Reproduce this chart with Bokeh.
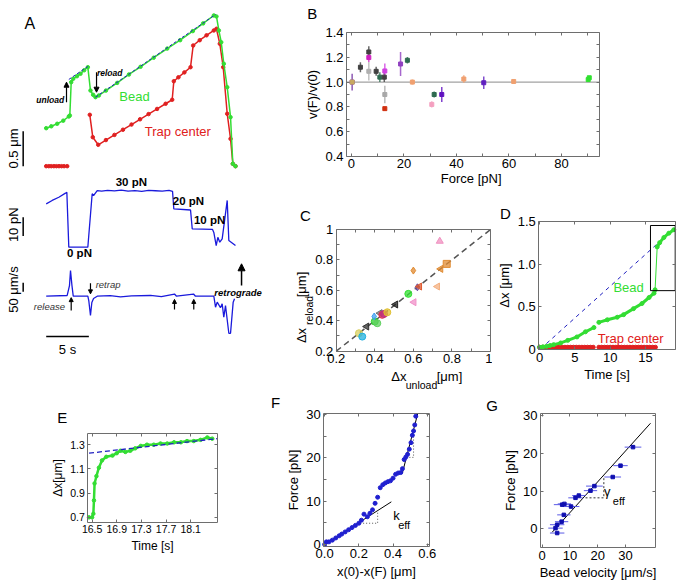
import math
from bokeh.plotting import figure
from bokeh.layouts import row, column
from bokeh.models import (Range1d, Label, Arrow, NormalHead, FixedTicker, LinearAxis,
                          PrintfTickFormatter)
from bokeh.embed import file_html
from bokeh.resources import INLINE

# ---------------- data ----------------
# Panel A: bead trace (time s, position um)
a_bead_t = [0.0, 0.6, 1.29, 2.0, 2.65, 2.77, 2.93, 3.17, 3.6, 4.02, 4.45, 4.88, 5.19, 5.5, 5.78, 6.17, 7.0,
            8.32, 9.7, 11.06, 12.6, 14.19, 15.7, 17.19, 18.4, 19.65, 19.96, 20.24, 20.52, 20.82, 21.22, 21.61,
            21.88, 22.19]
a_bead_x = [0.543, 0.57, 0.606, 0.65, 0.71, 0.724, 1.2, 1.249, 1.285, 1.32, 1.37, 1.414, 1.081, 1.02, 0.986,
            1.01, 1.08, 1.19, 1.31, 1.42, 1.55, 1.68, 1.80, 1.93, 2.04, 2.153, 2.139, 1.939, 1.771, 1.463, 1.129,
            0.7, 0.034, 0.0]
a_trap1_t = [0.0, 0.3, 0.6, 0.9, 1.2, 1.5, 1.8, 2.1, 2.46]
a_trap1_x = [0.0, 0.0, 0.0, 0.0, 0.0, 0.0, 0.0, 0.0, 0.0]
a_trap2_t = [5.11, 5.46, 6.1, 7.0, 8.0, 9.0, 10.0, 11.0, 12.0, 13.0, 14.0, 14.77, 14.96, 15.5, 16.2, 16.92,
             17.23, 18.0, 18.8, 19.65, 19.96, 20.35, 20.75, 21.22, 21.61, 21.88, 22.19]
a_trap2_x = [0.734, 0.414, 0.306, 0.373, 0.447, 0.521, 0.595, 0.67, 0.744, 0.818, 0.892, 0.949, 1.214, 1.27,
             1.34, 1.414, 1.724, 1.80, 1.87, 1.939, 1.963, 1.749, 1.414, 0.749, 0.391, 0.034, 0.0]
a_fit1_t = [2.65, 4.88]
a_fit1_x = [1.239, 1.424]
a_fit2_t = [5.78, 19.85]
a_fit2_x = [0.986, 2.167]
# force trace (pN)
a_force_t = [0.0, 0.7, 1.48, 2.26, 2.42, 2.65, 4.88, 5.39, 5.55, 5.98, 6.5, 7.2, 8.0, 8.8, 9.6, 10.4, 11.2, 12.0,
             12.8, 13.6, 14.4, 14.81, 14.96, 16.92, 17.12, 19.5, 19.65, 19.93, 20.12, 20.35, 20.63, 21.22, 21.41,
             22.19]
a_force = [23.2, 25.0, 26.7, 28.9, 29.4, 0.0, 0.0, 28.6, 27.6, 30.3, 30.0, 30.4, 30.1, 30.5, 30.0, 30.3, 29.9,
           30.4, 30.2, 30.0, 30.4, 29.9, 20.5, 19.9, 9.8, 9.5, 7.9, 0.9, 5.3, 2.7, 4.5, 25.0, 3.6, 0.9]
# velocity trace (um/s)
a_vel_t = [0.0, 2.46, 2.73, 2.85, 3.02, 3.17, 4.88, 4.99, 5.19, 5.35, 5.55, 5.98, 7.5, 8.71, 10.0, 12.23, 13.5,
           15.04, 15.28, 17.27, 17.5, 19.65, 19.85, 20.05, 20.43, 20.63, 20.82, 21.02, 21.41, 21.61, 21.92, 22.08]
a_vel = [0, 4, 59, 143, 59, 0, 0, -24, -107, -35, -13, 0, 3, -4, 2, 4, -2, 12, 0, 12, 0, 0, -61, -33, -64, -42,
         -117, -52, -206, -206, -33, -14]
a_force_labels = ["30 pN", "20 pN", "10 pN", "0 pN"]
a_force_label_t = [9.98, 16.67, 19.15, 3.9]
a_force_label_f = [34.8, 24.6, 14.3, -3.2]

# Panel B
b_force = [0.25, 0.25, 3.4, 6.6, 6.6, 6.6, 9.4, 10.8, 12.5, 12.7, 12.7, 12.7, 18.7, 21.3, 23.2, 30.6, 31.5,
           34.4, 42.8, 50.4, 61.8, 90.2, 90.6]
b_ratio = [1.0, 1.0, 1.12, 1.243, 1.198, 1.087, 1.087, 1.04, 1.04, 1.09, 0.90, 0.786, 1.146, 1.176, 1.0, 0.82,
           0.90, 0.90, 1.025, 0.995, 1.005, 1.02, 1.035]
b_err = [0.067, 0.0, 0.04, 0.047, 0.035, 0.075, 0.036, 0.04, 0.04, 0.06, 0.07, 0.0, 0.097, 0.027, 0.02, 0.025,
         0.025, 0.06, 0.03, 0.05, 0.012, 0.015, 0.015]
b_color = ["#7030a0", "#c8a860", "#404040", "#404040", "#d020c0", "#b0b0b0", "#404040", "#2e6b50", "#404040",
           "#d040e0", "#a8a8a8", "#d03010", "#9040c0", "#2e6b50", "#f0a070", "#f4a0c0", "#2e6b50", "#6010c0",
           "#f0a070", "#6020c0", "#f0a070", "#30e030", "#30e030"]
b_ref = 1.0

# Panel C
c_unload = [0.318, 0.335, 0.358, 0.40, 0.413, 0.397, 0.427, 0.439, 0.448, 0.465, 0.508, 0.574, 0.60, 0.603,
            0.621, 0.632, 0.725, 0.737, 0.742, 0.773]
c_reload = [0.318, 0.296, 0.362, 0.395, 0.384, 0.428, 0.45, 0.439, 0.445, 0.456, 0.507, 0.577, 0.73, 0.522,
            0.62, 0.625, 0.625, 0.923, 0.741, 0.774]
c_marker = ["circle", "circle", "triangle", "circle", "circle", "diamond", "triangle", "circle", "circle",
            "circle", "triangle", "circle", "diamond", "triangle", "diamond", "triangle", "triangle", "triangle",
            "triangle", "square"]
c_angle = [0, 0, 1.5708, 0, 0, 0, 1.5708, 0, 0, 0, 1.5708, 0, 0, 1.5708, 0, 1.5708, 1.5708, 0, 1.5708, 0]
c_color = ["#d8d060", "#20b0e0", "#303030", "#30d030", "#60d060", "#40a0f0", "#707070", "#e03050", "#c03080",
           "#e0c030", "#202020", "#30e030", "#e08a30", "#f090c8", "#6a4a9a", "#e05a30", "#f4b080", "#f090c0",
           "#e08a30", "#e08a30"]
c_diag = [0.2, 1.0]

# Panel D
d_bead_t = [0.0, 0.5, 1.0, 1.5, 2.0, 3.0, 4.0, 5.3, 6.5, 7.7, float("nan"), 8.4, 9.6, 11.0, 11.9, 13.3, 14.5,
            15.5, 16.2, 16.35, float("nan"), 16.65, 17.0, 17.6, 18.3, 19.0]
d_bead_x = [0.03, 0.035, 0.04, 0.05, 0.06, 0.08, 0.11, 0.15, 0.21, 0.26, float("nan"), 0.32, 0.35, 0.38, 0.41,
            0.48, 0.54, 0.61, 0.66, 0.70, float("nan"), 1.20, 1.25, 1.31, 1.36, 1.40]
d_trap_t1 = [0.0, 0.4, 0.8, 1.2, 1.6, 2.0, 2.4, 2.8, 3.2, 3.6, 4.0, 4.4, 4.8, 5.2, 5.6, 6.0, 6.4, 6.8, 7.2, 7.6]
d_trap_t2 = [8.4, 8.8, 9.2, 9.6, 10.0, 10.4, 10.8, 11.2, 11.6, 12.0, 12.4, 12.8, 13.2, 13.6, 14.0, 14.4, 14.8,
             15.2, 15.6, 16.0, 16.4]
d_trap_level = 0.03
d_fit_t = [0.14, 19.0]
d_fit_x = [0.01, 1.41]
d_box = [15.7, 19.2, 0.69, 1.45]

# Panel E
e_t = [16.45, 16.5, 16.52, 16.53, 16.54, 16.57, 16.61, 16.66, 16.73, 16.83, 16.9, 16.96, 17.04, 17.12, 17.2,
       17.29, 17.39, 17.5, 17.61, 17.72, 17.83, 17.94, 18.04, 18.15, 18.26, 18.37, 18.45]
e_x = [0.70, 0.70, 0.73, 0.84, 0.98, 1.04, 1.11, 1.17, 1.20, 1.21, 1.23, 1.25, 1.24, 1.25, 1.27, 1.29, 1.30,
       1.30, 1.31, 1.31, 1.32, 1.32, 1.33, 1.33, 1.34, 1.36, 1.35]
e_fit_t = [16.45, 18.53]
e_fit_x = [1.23, 1.35]

# Panel F
f_x = [0.0, 0.01, 0.025, 0.045, 0.065, 0.085, 0.10, 0.12, 0.14, 0.16, 0.18, 0.20, 0.215, 0.23, 0.25, 0.265, 0.28,
       0.295, 0.31, 0.325, 0.34, 0.355, 0.37, 0.385, 0.40, 0.415, 0.43, 0.445, 0.455, 0.465, 0.475, 0.485, 0.495,
       0.505, 0.513, 0.52, 0.527, 0.533]
f_F = [0.0, 0.6, 0.6, 1.0, 1.5, 2.0, 2.4, 2.9, 3.4, 3.9, 4.4, 4.9, 5.6, 7.0, 6.4, 7.2, 8.0, 9.5, 10.9, 13.1, 13.8,
       14.2, 14.5, 14.7, 15.3, 16.2, 16.5, 16.6, 17.5, 19.6, 20.2, 20.8, 22.0, 23.5, 25.2, 26.2, 27.6, 29.6]
f_fit1_x = [0.0, 0.39]
f_fit1_F = [0.0, 9.84]
f_fit2_x = [0.454, 0.545]
f_fit2_F = [16.4, 30.3]
f_tri1_x = [0.19, 0.31, 0.31]
f_tri1_F = [4.9, 4.9, 7.8]
f_tri2_x = [0.478, 0.52, 0.52]
f_tri2_F = [20.1, 20.1, 24.8]

# Panel G
g_v = [32.7, 28.2, 25.4, 18.8, 17.4, 13.2, 12.0, 8.0, 7.2, 10.4, 7.8, 7.0, 5.4, 4.8, 5.4]
g_F = [21.6, 16.7, 13.7, 11.3, 10.1, 8.8, 8.2, 6.6, 6.4, 5.9, 3.7, 1.9, 1.1, 0.2, -1.1]
g_err = [3.0, 2.6, 3.0, 3.0, 2.4, 2.4, 2.6, 2.4, 3.0, 3.0, 2.4, 2.4, 2.6, 2.6, 2.6]
g_fit_v = [3.6, 39.0]
g_fit_F = [-0.9, 27.9]
g_tri_v = [15.6, 22.2, 22.2]
g_tri_F = [8.2, 8.2, 14.0]

# ---------------- style ----------------
FONT = "Liberation Sans"
GREEN = "#33dd33"
RED = "#e02020"
BLUE = "#1a1adc"
AXC = "#6e6e6e"


def style_axis(ax, tick_size, label_size):
    ax.axis_line_color = AXC
    ax.major_tick_line_color = AXC
    ax.major_tick_in = 3
    ax.major_tick_out = 0
    ax.minor_tick_line_color = AXC
    ax.minor_tick_in = 3
    ax.minor_tick_out = 0
    ax.major_label_text_font = FONT
    ax.major_label_text_font_size = tick_size
    ax.major_label_text_color = "black"
    ax.major_label_standoff = 3
    ax.axis_label_text_font = FONT
    ax.axis_label_text_font_size = label_size
    ax.axis_label_text_font_style = "normal"
    ax.axis_label_text_color = "black"
    ax.axis_label_standoff = 2


def panel(fig, box_px, box, xticks, yticks, xlabel, ylabel, xfmt=None, yfmt=None,
          tick_size="13px", label_size="13px", xminor=(), yminor=()):
    """fig = (left, top, width, height) of the figure on the page; box_px = (x0, x1, ytop, ybottom)
    of the plotting box on the page; box = (xlo, xhi, ylo, yhi) data limits of that box."""
    fx, fy, fw, fh = fig
    bx0, bx1, byt, byb = box_px
    xlo, xhi, ylo, yhi = box
    sx = (xhi - xlo) / (bx1 - bx0)
    sy = (yhi - ylo) / (byb - byt)
    xr = Range1d(xlo + (fx - bx0) * sx, xlo + (fx + fw - bx0) * sx)
    yr = Range1d(ylo - (fy + fh - byb) * sy, yhi + (byt - fy) * sy)
    p = figure(width=fw, height=fh, x_range=xr, y_range=yr, x_axis_location=None, y_axis_location=None,
               toolbar_location=None, output_backend="svg", min_border=0)
    p.outline_line_color = None
    p.grid.visible = False
    p.background_fill_color = "white"
    p.border_fill_color = "white"
    bottom = LinearAxis(fixed_location=ylo, bounds=(xlo, xhi),
                        ticker=FixedTicker(ticks=xticks, minor_ticks=list(xminor)), axis_label=xlabel)
    left = LinearAxis(fixed_location=xlo, bounds=(ylo, yhi),
                      ticker=FixedTicker(ticks=yticks, minor_ticks=list(yminor)), axis_label=ylabel)
    top = LinearAxis(fixed_location=yhi, bounds=(xlo, xhi),
                     ticker=FixedTicker(ticks=xticks, minor_ticks=list(xminor)))
    right = LinearAxis(fixed_location=xhi, bounds=(ylo, yhi),
                       ticker=FixedTicker(ticks=yticks, minor_ticks=list(yminor)))
    if xfmt:
        bottom.formatter = PrintfTickFormatter(format=xfmt)
    if yfmt:
        left.formatter = PrintfTickFormatter(format=yfmt)
    for ax in (bottom, left, top, right):
        style_axis(ax, tick_size, label_size)
    top.major_label_text_color = None
    right.major_label_text_color = None
    p.add_layout(bottom, "below")
    p.add_layout(left, "left")
    p.add_layout(top, "above")
    p.add_layout(right, "right")
    return p, bottom, left, (fx, fy, fw, fh)


def lab(p, x, y, text, size="13px", color="black", style="normal", angle=0.0,
        align="center", baseline="middle", yr="default"):
    p.add_layout(Label(x=x, y=y, text=text, text_font=FONT,
                       text_font_size=size, text_color=color, text_font_style=style, angle=angle,
                       text_align=align, text_baseline=baseline, y_range_name=yr))


def lab_px(p, geom, X, Y, text, size="13px", angle=0.0, color="black"):
    fx, fy, fw, fh = geom
    p.add_layout(Label(x=X - fx, y=fy + fh - Y, x_units="screen", y_units="screen", text=text,
                       text_font=FONT, text_font_size=size, text_color=color, angle=angle,
                       text_align="center", text_baseline="middle"))


def arrow(p, x0, y0, x1, y1, yr="default", size=5, width=1.2):
    p.add_layout(Arrow(end=NormalHead(size=size, fill_color="black", line_color="black"),
                       x_start=x0, y_start=y0, x_end=x1, y_end=y1, line_color="black",
                       line_width=width, y_range_name=yr))


# ---------------- Panel A ----------------
pA = figure(width=270, height=395, x_range=Range1d(-5.358, 26.295), y_range=Range1d(-3.276, 2.367),
            x_axis_type=None, y_axis_type=None, toolbar_location=None, output_backend="svg", min_border=0)
pA.outline_line_color = None
pA.grid.visible = False
pA.extra_y_ranges = {"force": Range1d(-79.3, 131.93), "vel": Range1d(-551.7, 1642.8)}

pA.line(a_trap1_t, a_trap1_x, color=RED, line_width=1.5)
pA.scatter(a_trap1_t, a_trap1_x, size=3.5, color=RED)
pA.line(a_trap2_t, a_trap2_x, color=RED, line_width=1.5)
pA.scatter(a_trap2_t, a_trap2_x, size=3.5, color=RED)
pA.line(a_bead_t, a_bead_x, color=GREEN, line_width=1.5)
pA.scatter(a_bead_t, a_bead_x, size=3.5, color=GREEN)
pA.line(a_fit1_t, a_fit1_x, color="#2020c0", line_width=1, line_dash="3 2")
pA.line(a_fit2_t, a_fit2_x, color="#2020c0", line_width=1, line_dash="3 2")
pA.line(a_force_t, a_force, color=BLUE, line_width=1.3, y_range_name="force")
pA.line(a_vel_t, a_vel, color=BLUE, line_width=1.3, y_range_name="vel")

bar_t = -2.70
pA.line([bar_t, bar_t], [0.0, 0.5], color="black", line_width=1.5)
pA.line([bar_t, bar_t], [6.0, 16.0], color="black", line_width=1.5, y_range_name="force")
pA.line([bar_t, bar_t], [25.0, 75.0], color="black", line_width=1.5, y_range_name="vel")
pA.line([0.0, 5.0], [-224.0, -224.0], color="black", line_width=1.5, y_range_name="vel")
lab(pA, -3.83, 0.253, "0.5 μm", angle=math.pi / 2)
lab(pA, -3.83, 12.0, "10 pN", angle=math.pi / 2, yr="force")
lab(pA, -3.83, 37.0, "50 μm/s", angle=math.pi / 2, yr="vel")
lab(pA, 2.5, -296.0, "5 s", yr="vel")

lab(pA, -1.92, 2.033, "A", size="16px")
lab(pA, 0.47, 0.939, "unload", size="8.5px", style="bold italic")
arrow(pA, 2.38, 0.914, 2.38, 1.2)
lab(pA, 7.44, 1.329, "reload", size="8.5px", style="bold italic")
arrow(pA, 5.9, 1.343, 5.9, 1.057)
lab(pA, 10.35, 0.996, "Bead", color=GREEN)
lab(pA, 15.43, 0.5, "Trap center", color=RED)
for txt, tt, ff in zip(a_force_labels, a_force_label_t, a_force_label_f):
    lab(pA, tt, ff, txt, size="11.5px", style="bold", yr="force")
lab(pA, 0.38, -57.0, "release", size="9.5px", style="italic", color="#333333", yr="vel")
arrow(pA, 2.93, -80.0, 2.93, -8.0, yr="vel", size=4)
lab(pA, 7.25, 65.0, "retrap", size="9.5px", style="italic", color="#333333", yr="vel")
arrow(pA, 5.19, 72.0, 5.19, 13.0, yr="vel", size=4)
arrow(pA, 15.04, -74.0, 15.04, -18.0, yr="vel", size=4)
arrow(pA, 17.3, -74.0, 17.3, -18.0, yr="vel", size=4)
lab(pA, 22.49, 22.0, "retrograde", size="9.5px", style="bold italic", yr="vel")
arrow(pA, 22.9, 59.0, 22.9, 180.0, yr="vel", size=7, width=1.5)

# ---------------- Panel B ----------------
B_box = (-1.9, 94.5, 0.4, 1.4)
pB, bxB, byB, gB = panel((270, 0, 413, 205), (346, 599, 32, 156), B_box, [0, 20, 40, 60, 80],
                         [0.4, 0.6, 0.8, 1.0, 1.2, 1.4], "Force  [pN]", "v(F)/v(0)", yfmt="%.1f",
                         xminor=[10, 30, 50, 70, 90], yminor=[0.5, 0.7, 0.9, 1.1, 1.3])
bxB.major_label_standoff = 2
bxB.axis_label_standoff = 0
pB.line([B_box[0], B_box[1]], [b_ref, b_ref], color="#8a8a8a", line_width=1)
pB.segment(x0=b_force, y0=[r - e for r, e in zip(b_ratio, b_err)], x1=b_force,
           y1=[r + e for r, e in zip(b_ratio, b_err)], line_color=b_color, line_width=1.5, line_alpha=0.8)
pB.scatter(b_force, b_ratio, marker="square", size=4, color=b_color)
lab_px(pB, gB, 311.7, 13.3, "B", size="15px")

# ---------------- Panel C ----------------
pC, bxC, byC, gC = panel((270, 205, 222, 190), (335.7, 490, 229, 350.7), (0.2, 1.0, 0.2, 1.0),
                         [0.2, 0.4, 0.6, 0.8, 1.0], [0.2, 0.4, 0.6, 0.8, 1.0], None, None,
                         xfmt="%.1f", yfmt="%.1f", xminor=[0.3, 0.5, 0.7, 0.9], yminor=[0.3, 0.5, 0.7, 0.9])
bxC.major_label_overrides = {1: "1"}
byC.major_label_overrides = {1: "1"}
pC.line(c_diag, c_diag, color="#555555", line_width=1.5, line_dash="6 4")
pC.scatter(c_unload, c_reload, marker=c_marker, angle=c_angle, size=7, fill_color=c_color,
           line_color=c_color, fill_alpha=0.75)
lab_px(pC, gC, 305, 215, "C", size="15px")
lab_px(pC, gC, 300.8, 335, "Δx", angle=math.pi / 2)
lab_px(pC, gC, 308.3, 310, "reload", size="10.5px", angle=math.pi / 2)
lab_px(pC, gC, 301, 284, "[μm]", angle=math.pi / 2)
lab_px(pC, gC, 398.3, 375.7, "Δx")
lab_px(pC, gC, 421, 384, "unload", size="10.5px")
lab_px(pC, gC, 449, 375.5, "[μm]")

# ---------------- Panel D ----------------
pD, bxD, byD, gD = panel((492, 205, 191, 190), (538.3, 675, 220.7, 349.3), (-0.1, 19.24, 0.0, 1.5),
                         [0, 5, 10, 15], [0.0, 0.5, 1.0, 1.5], "Time [s]", "Δx [μm]", yfmt="%.1f")
byD.major_label_overrides = {0: "0"}
pD.line(d_fit_t, d_fit_x, color="#2020c0", line_width=1, line_dash="4 4")
pD.line(d_trap_t1, [d_trap_level] * len(d_trap_t1), color=RED, line_width=3)
pD.line(d_trap_t2, [d_trap_level] * len(d_trap_t2), color=RED, line_width=3)
pD.scatter(d_trap_t1 + d_trap_t2, [d_trap_level] * (len(d_trap_t1) + len(d_trap_t2)), size=4, color=RED)
pD.line(d_bead_t, d_bead_x, color=GREEN, line_width=3)
pD.line([d_bead_t[19], d_bead_t[21]], [d_bead_x[19], d_bead_x[21]], color=GREEN, line_width=1)
pD.scatter(d_bead_t, d_bead_x, size=4, color=GREEN)
pD.quad(left=d_box[0], right=d_box[1], bottom=d_box[2], top=d_box[3], fill_color=None,
        line_color="black", line_width=1)
lab(pD, 12.6, 0.73, "Bead", color=GREEN)
lab(pD, 12.9, 0.128, "Trap center", color=RED)
lab_px(pD, gD, 505, 213.3, "D", size="15px")

# ---------------- Panel E ----------------
pE, bxE, byE, gE = panel((0, 395, 250, 193), (87.3, 216.7, 433.3, 521.7), (16.43, 18.53, 0.66, 1.39),
                         [16.5, 16.9, 17.3, 17.7, 18.1], [0.7, 0.9, 1.1, 1.3], "Time [s]", "Δx[μm]",
                         xfmt="%.1f", yfmt="%.1f", tick_size="10.5px", label_size="12px")
pE.line(e_t, e_x, color=GREEN, line_width=2.5)
pE.scatter(e_t, e_x, size=3.5, color=GREEN)
pE.line(e_fit_t, e_fit_x, color="#2020c0", line_width=1.3, line_dash="5 3")
lab_px(pE, gE, 61.7, 416.7, "E", size="15px")

# ---------------- Panel F ----------------
pF, bxF, byF, gF = panel((250, 395, 220, 193), (323.3, 429.3, 412.7, 545.7), (-0.005, 0.615, -0.4, 30.3),
                         [0.0, 0.2, 0.4, 0.6], [0, 10, 20, 30], "x(0)-x(F) [μm]", "Force [pN]", xfmt="%.1f",
                         yminor=[5, 15, 25])
pF.line(f_fit1_x, f_fit1_F, color="black", line_width=1)
pF.line(f_fit2_x, f_fit2_F, color="black", line_width=1)
pF.line(f_tri1_x, f_tri1_F, color="#555555", line_width=1, line_dash="1 2")
pF.line(f_tri2_x, f_tri2_F, color="#555555", line_width=1, line_dash="1 2")
pF.scatter(f_x, f_F, size=4, color="#2020d0")
lab(pF, 0.42, 6.7, "k")
lab(pF, 0.465, 4.4, "eff", size="11px")
lab_px(pF, gF, 275, 401.7, "F", size="15px")

# ---------------- Panel G ----------------
pG, bxG, byG, gG = panel((470, 395, 213, 193), (540, 655, 413.3, 547.3), (-0.6, 40.8, -5.0, 30.4),
                         [0, 10, 20, 30], [0, 10, 20, 30], "Bead velocity [μm/s]", "Force [pN]")
pG.line(g_fit_v, g_fit_F, color="black", line_width=1)
pG.line(g_tri_v, g_tri_F, color="#333333", line_width=1, line_dash="2 2")
pG.segment(x0=[v - e for v, e in zip(g_v, g_err)], y0=g_F, x1=[v + e for v, e in zip(g_v, g_err)], y1=g_F,
           line_color="#5a5ae6", line_width=1)
pG.scatter(g_v, g_F, marker="square", size=3.5, color="#1010b0")
lab(pG, 23.4, 10.0, "γ")
lab(pG, 27.6, 7.4, "eff", size="11px")
lab_px(pG, gG, 491.7, 405, "G", size="15px")

layout = column(row(pA, column(pB, row(column(pC), column(pD)))),
                row(column(pE), column(pF), column(pG)))
open("out.html", "w").write(file_html(layout, INLINE))
